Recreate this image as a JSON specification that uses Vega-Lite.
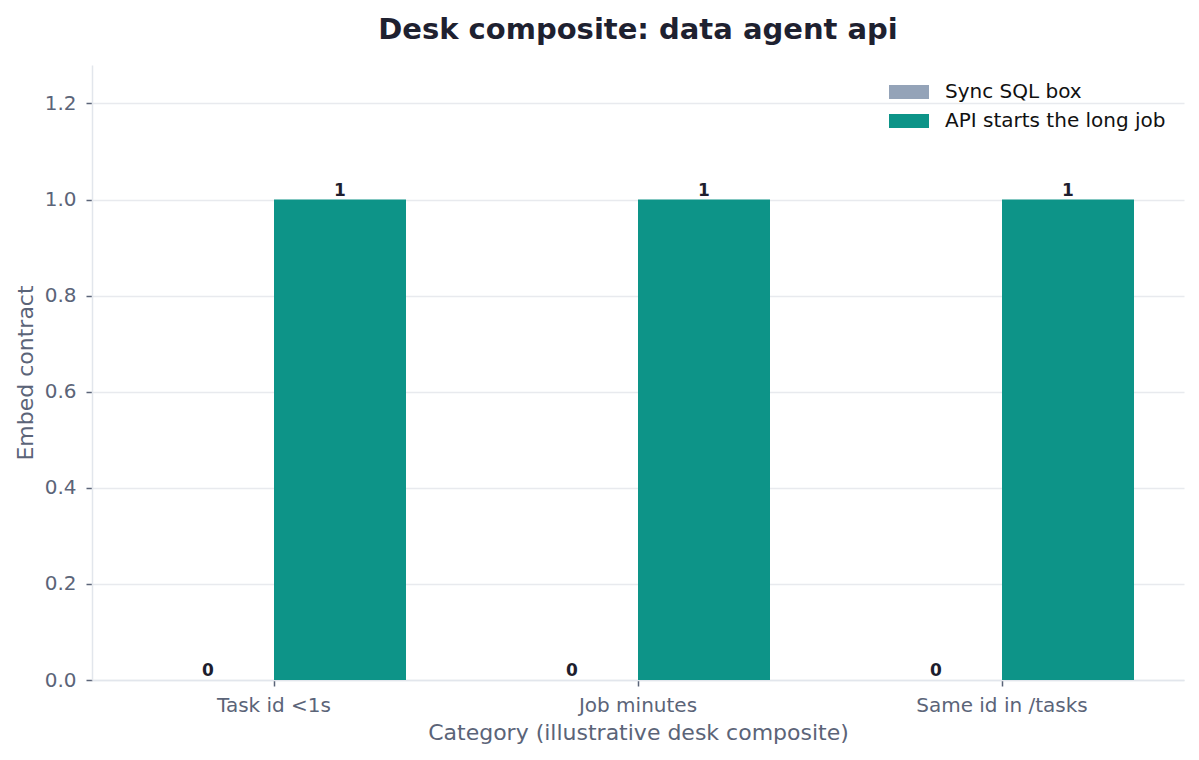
{
  "$schema": "https://vega.github.io/schema/vega-lite/v6.json",
  "width": 1092,
  "height": 615,
  "autosize": {"type": "none"},
  "padding": {"left": 92, "top": 65, "right": 15, "bottom": 80},
  "background": "white",
  "config": {
    "view": {"stroke": null},
    "font": "DejaVu Sans"
  },
  "title": {
    "text": "Desk composite: data agent api",
    "font": "DejaVu Sans",
    "fontSize": 29,
    "fontWeight": "bold",
    "color": "#1e2130",
    "anchor": "middle",
    "frame": "group",
    "baseline": "bottom",
    "offset": -9
  },
  "data": {
    "values": [
      {"category": "Task id <1s", "series": "Sync SQL box", "value": 0},
      {"category": "Task id <1s", "series": "API starts the long job", "value": 1},
      {"category": "Job minutes", "series": "Sync SQL box", "value": 0},
      {"category": "Job minutes", "series": "API starts the long job", "value": 1},
      {"category": "Same id in /tasks", "series": "Sync SQL box", "value": 0},
      {"category": "Same id in /tasks", "series": "API starts the long job", "value": 1}
    ]
  },
  "encoding": {
    "x": {
      "field": "category",
      "type": "nominal",
      "sort": ["Task id <1s", "Job minutes", "Same id in /tasks"],
      "scale": {"paddingInner": 0, "paddingOuter": 0},
      "axis": {
        "title": "Category (illustrative desk composite)",
        "labelAngle": 0,
        "labelFontSize": 20,
        "labelColor": "#5b6478",
        "labelPadding": 9,
        "labelLimit": 400,
        "titleFontSize": 22,
        "titleFontWeight": "normal",
        "titleColor": "#5b6478",
        "titlePadding": 7,
        "domainColor": "#e2e6ec",
        "domainWidth": 1.5,
        "tickColor": "#5b6478",
        "tickSize": 6,
        "tickWidth": 1.5,
        "grid": false
      }
    },
    "xOffset": {
      "field": "series",
      "type": "nominal",
      "sort": ["Sync SQL box", "API starts the long job"],
      "scale": {"paddingInner": 0, "paddingOuter": 0.3788}
    },
    "y": {
      "field": "value",
      "type": "quantitative",
      "scale": {"domain": [0, 1.28], "nice": false},
      "axis": {
        "title": "Embed contract",
        "values": [0, 0.2, 0.4, 0.6, 0.8, 1.0, 1.2],
        "format": ".1f",
        "labelFontSize": 20,
        "labelColor": "#5b6478",
        "labelPadding": 10,
        "titleFontSize": 22,
        "titleFontWeight": "normal",
        "titleColor": "#5b6478",
        "titlePadding": 7,
        "domainColor": "#e2e6ec",
        "domainWidth": 1.5,
        "tickColor": "#5b6478",
        "tickSize": 6,
        "tickWidth": 1.5,
        "gridColor": "#e8eaee",
        "gridWidth": 1.5
      }
    }
  },
  "layer": [
    {
      "mark": {"type": "bar"},
      "encoding": {
        "color": {
          "field": "series",
          "type": "nominal",
          "sort": ["Sync SQL box", "API starts the long job"],
          "scale": {
            "domain": ["Sync SQL box", "API starts the long job"],
            "range": ["#94a3b8", "#0d9488"]
          },
          "legend": {
            "title": null,
            "orient": "none",
            "legendX": 807,
            "legendY": 17,
            "padding": 0,
            "symbolType": "M-2,-0.7L2,-0.7L2,0.7L-2,0.7Z",
            "symbolSize": 400,
            "symbolStrokeWidth": 0,
            "symbolOpacity": 1,
            "labelFontSize": 20,
            "labelLimit": 400,
            "labelColor": "#111111",
            "labelOffset": 26,
            "rowPadding": 9
          }
        }
      }
    },
    {
      "mark": {
        "type": "text",
        "baseline": "bottom",
        "dy": 0,
        "fontSize": 17,
        "fontWeight": "bold",
        "color": "#1e1e2e"
      },
      "encoding": {
        "text": {"field": "value", "type": "quantitative", "format": "d"}
      }
    }
  ]
}
